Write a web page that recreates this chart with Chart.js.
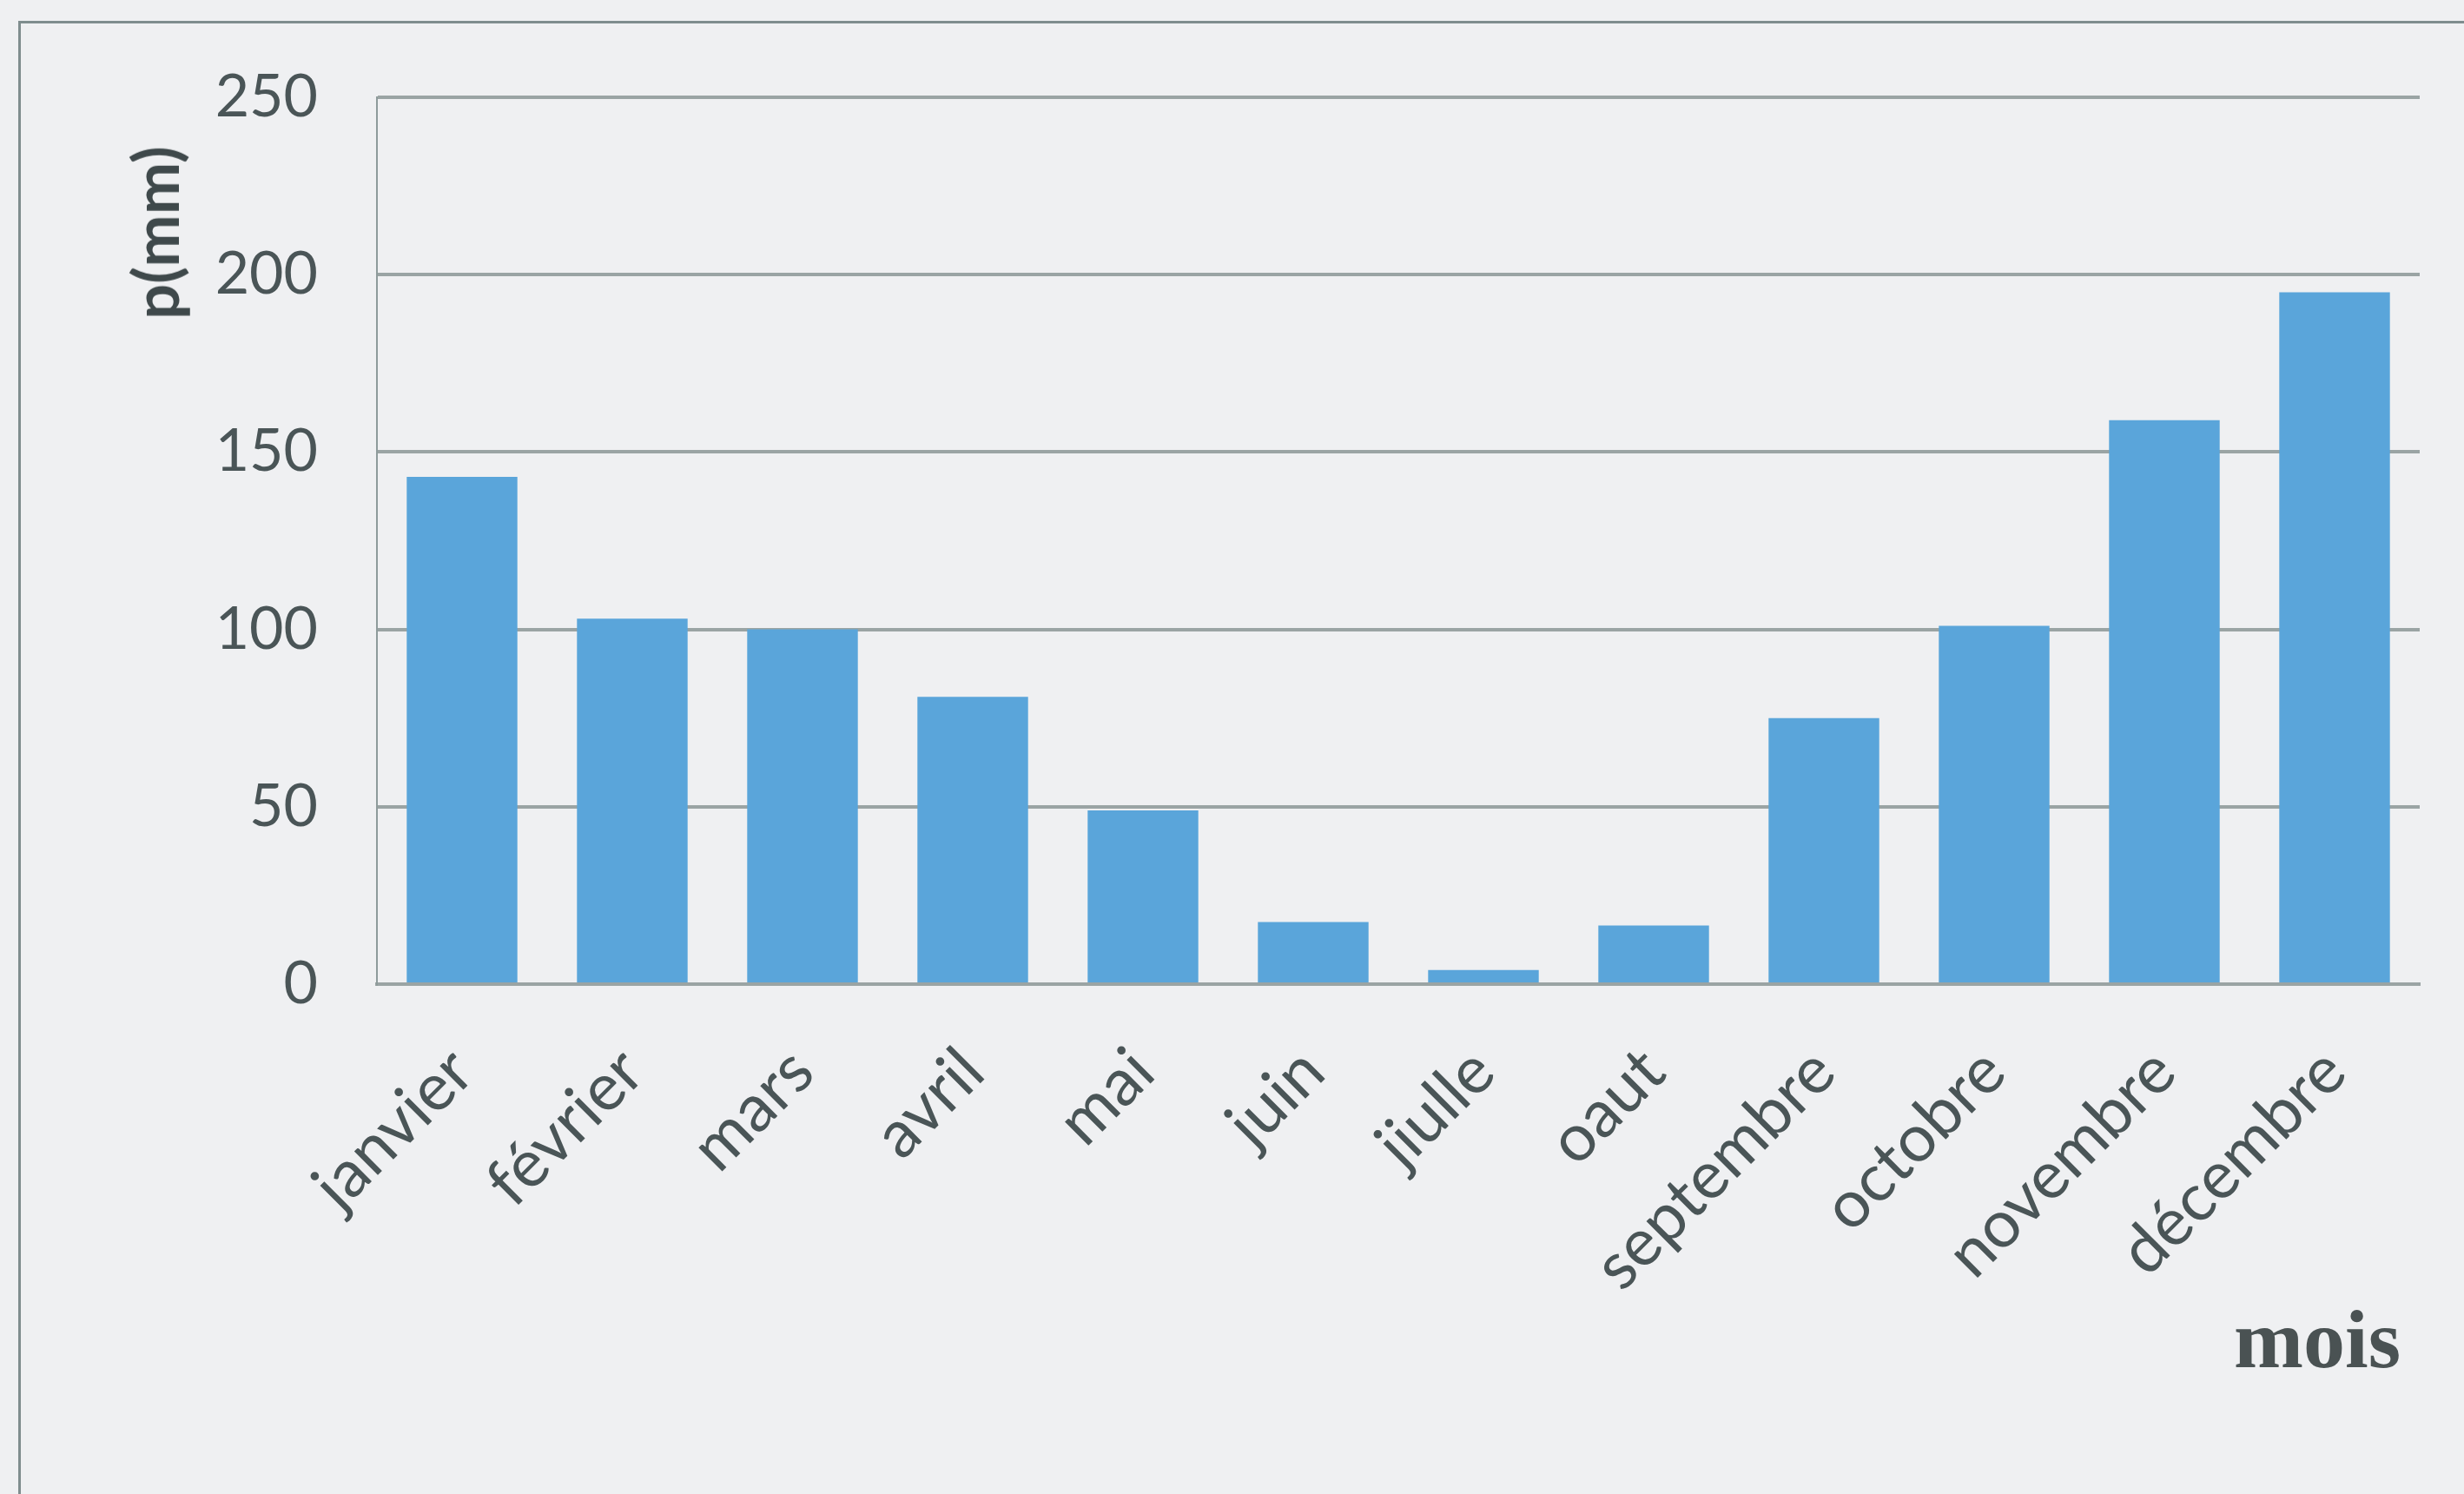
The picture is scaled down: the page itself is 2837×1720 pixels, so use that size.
<!DOCTYPE html>
<html>
<head>
<meta charset="utf-8">
<script src="https://cdn.jsdelivr.net/npm/chart.js@4"></script>
<style>
  html,body{margin:0;padding:0;background:#eff0f2;overflow:hidden}
  #wrap{position:relative;width:2837px;height:1720px}
  #frame{position:absolute;left:21px;top:24px;width:2900px;height:1800px;border:3px solid #7f8d8e;box-sizing:border-box}
  canvas{position:absolute;left:0;top:0}
  .ytitle{position:absolute;left:178px;top:268px;transform:translate(-50%,-50%) rotate(-90deg);font:bold 72px Lato, sans-serif;color:#3f494b;white-space:nowrap}
  .xtitle{position:absolute;left:2572px;top:1494px;font:bold 96px "Liberation Serif", serif;line-height:1;color:#4a5253;white-space:nowrap}
</style>
</head>
<body>
<div id="wrap">
  <div id="frame"></div>
  <canvas id="c" width="2837" height="1720"></canvas>
  <div class="ytitle">p(mm)</div>
  <div class="xtitle">mois</div>
</div>
<script>
// Monthly rainfall
const months = ["janvier","février","mars","avril","mai","juin","jiulle","oaut","septembre","octobre","novembre","décembre"];
const rain = [143, 103, 100, 81, 49, 17.5, 4, 16.5, 75, 101, 159, 195];
const yTicks = [0, 50, 100, 150, 200, 250];

const BAR = "#5aa5da", GRID = "#9aa4a4", INK = "#4a5557";

new Chart(document.getElementById("c"), {
  type: "bar",
  data: { labels: months, datasets: [{ data: rain, backgroundColor: BAR, borderWidth: 0, barPercentage: 0.65, categoryPercentage: 1 }] },
  options: {
    responsive: false, animation: false,
    layout: { padding: { top: 112, right: 51, left: 0, bottom: 0 } },
    plugins: { legend: { display: false }, tooltip: { enabled: false } },
    scales: {
      x: {
        grid: { display: false, drawTicks: false },
        border: { display: true, color: GRID, width: 4 },
        ticks: { color: INK, font: { family: "Lato", size: 76 }, minRotation: 45, maxRotation: 45, padding: 56, autoSkip: false },
        afterFit: s => { s.height = 1720 - 1133; }
      },
      y: {
        min: 0, max: 250,
        afterBuildTicks: s => { s.ticks = yTicks.map(v => ({ value: v })); },
        grid: { color: GRID, lineWidth: 4, drawTicks: false },
        border: { display: true, color: "#8e9b9b", width: 2 },
        ticks: { color: INK, font: { family: "Lato", size: 68 }, padding: 68 },
        afterFit: s => { s.width = 434; }
      }
    }
  }
});
</script>
</body>
</html>
